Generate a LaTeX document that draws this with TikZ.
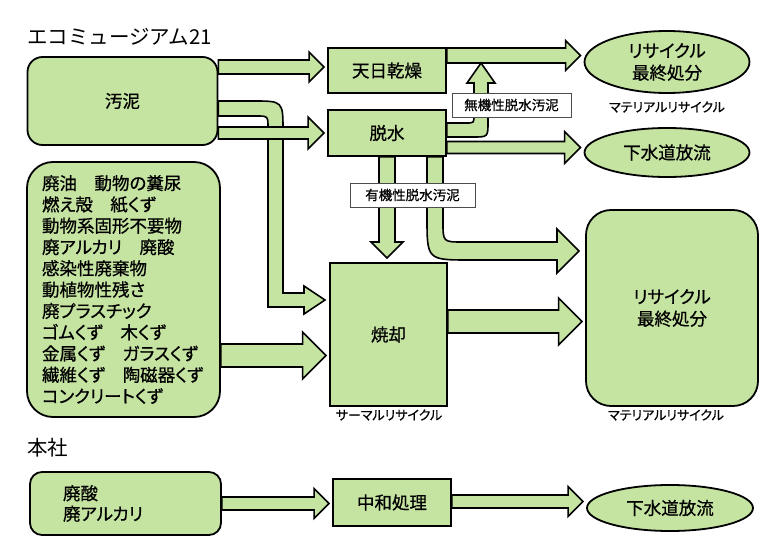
\documentclass[tikz,border=0pt]{standalone}
\usepackage{fontspec}
\setmainfont{Noto Sans CJK JP}[RawFeature=+palt,FakeBold=0.7]
\newfontfamily\widejp{Noto Sans CJK JP}
\usetikzlibrary{shapes.geometric,calc}
\definecolor{boxgreen}{RGB}{197,227,161}

% fat arrow pointing right: from, to, y, half shaft, half head
\newcommand\fatright[5]{%
  \draw[fat] let \p1=(#1.east), \p2=(#2.west) in
    (\x1,{#3-#4}) -- ({\x2-3pt-#5pt},{#3-#4}) -- ({\x2-3pt-#5pt},{#3-#5})
    -- ({\x2-3pt},#3) -- ({\x2-3pt-#5pt},{#3+#5}) -- ({\x2-3pt-#5pt},{#3+#4})
    -- (\x1,{#3+#4}) -- cycle;}

\begin{document}
\begin{tikzpicture}[x=1pt,y=-1pt,
    green box/.style={draw,line width=1.8pt,fill=boxgreen,inner sep=0pt,
      font=\fontsize{17.5}{22}\selectfont},
    round box/.style={green box,rounded corners=#1},
    oval/.style={green box,ellipse,align=center},
    fat/.style={draw,line width=1.6pt,fill=boxgreen,line join=miter},
    tag/.style={draw=black!70,line width=0.8pt,fill=white,inner sep=0pt,
      minimum height=24pt,font=\fontsize{13.5}{16}\selectfont},
    note/.style={font=\fontsize{13}{15}\selectfont},
    head/.style={font=\widejp\fontsize{20.5}{24}\selectfont,inner sep=0pt}]

    \useasboundingbox (0,0) rectangle (780,540);

    % Define boxes
    \node[head,anchor=west] (site) at (27,37) {エコミュージアム21};
    \node[round box=15pt,minimum width=190pt,minimum height=88pt] (sludge) at (122.5,101) {汚泥};
    \node[round box=26pt,minimum width=193pt,minimum height=255pt,align=left,text width=163pt,
      font=\fontsize{17.5}{21.3}\selectfont] (waste) at (123.5,289.5)
      {廃油　動物の糞尿\\燃え殻　紙くず\\動物系固形不要物\\廃アルカリ　廃酸\\感染性廃棄物\\動植物性残さ\\廃プラスチック\\ゴムくず　木くず\\金属くず　ガラスくず\\繊維くず　陶磁器くず\\コンクリートくず};
    \node[green box,minimum width=118pt,minimum height=45pt] (dry) at (387,70.5) {天日乾燥};
    \node[green box,minimum width=118pt,minimum height=46pt] (dewater) at (387,133) {脱水};
    \node[green box,minimum width=117pt,minimum height=143pt] (burn) at (388.5,334.5) {焼却};
    \node[oval,minimum width=165pt,minimum height=62pt] (recycle) at (667,62) {リサイクル\\最終処分};
    \node[oval,minimum width=165pt,minimum height=49pt] (sewer) at (667,152.5) {下水道放流};
    \node[round box=25pt,minimum width=172pt,minimum height=196pt,align=center] (landfill) at (672,308) {リサイクル\\最終処分};
    \node[note] (material) at (667,107) {マテリアルリサイクル};
    \node[note] (thermal) at (389,415) {サーマルリサイクル};
    \node[note] (material2) at (666,415) {マテリアルリサイクル};

    \node[head,anchor=west] (hq) at (27,448) {本社};
    \node[round box=12pt,minimum width=191pt,minimum height=63pt,align=left,text width=125pt,
      font=\fontsize{17.5}{20.5}\selectfont] (acid) at (125.5,503.5) {廃酸\\廃アルカリ};
    \node[green box,minimum width=118pt,minimum height=47pt] (neutral) at (392,502.5) {中和処理};
    \node[oval,minimum width=166pt,minimum height=46pt] (sewer2) at (670,508) {下水道放流};

    % Draw arrows
    \draw[fat] (sludge.east |- 0,101) -- (253,101) .. controls (283,101) .. (283,131)
      -- (283,293) -- (304,293) -- (304,286) -- (325,300) -- (304,314) -- (304,307)
      -- (268,307) -- (268,128) .. controls (268,116) .. (256,116)
      -- (sludge.east |- 0,116) -- cycle;
    \fatright{sludge}{dry}{67}{7}{15}
    \fatright{sludge}{dewater}{133}{6}{16}
    \fatright{dry}{recycle}{55.5}{7.5}{15}
    \draw[fat] (dewater.east |- 0,123) -- (466,123) .. controls (474,123) .. (474,115)
      -- (474,83) -- (467,83) -- (481,63) -- (495,83) -- (488,83)
      -- (488,122) .. controls (488,137) .. (473,137) -- (dewater.east |- 0,137) -- cycle;
    \fatright{dewater}{sewer}{147.5}{6}{16}
    \draw[fat] (379,0 |- dewater.south) -- (379,242) -- (371,242) -- (387,258)
      -- (403,242) -- (395,242) -- (395,0 |- dewater.south) -- cycle;
    \draw[fat] (427,0 |- dewater.south) -- (443,0 |- dewater.south) -- (443,222)
      .. controls (443,242) .. (463,242) -- (557,242) -- (557,229) -- (579,251)
      -- (557,273) -- (557,260) -- (470,260) .. controls (427,260) .. (427,217) -- cycle;
    \fatright{burn}{landfill}{321.5}{11.5}{23.5}
    \fatright{waste}{burn}{355.5}{11.5}{23.5}
    \fatright{acid}{neutral}{503.5}{6.5}{15}
    \fatright{neutral}{sewer2}{501.5}{6.5}{15}

    % Labels on arrows
    \node[tag,minimum width=119pt] (inorganic) at (511.5,105) {無機性脱水汚泥};
    \node[tag,minimum width=125pt] (organic) at (412.5,195) {有機性脱水汚泥};

\end{tikzpicture}
\end{document}
